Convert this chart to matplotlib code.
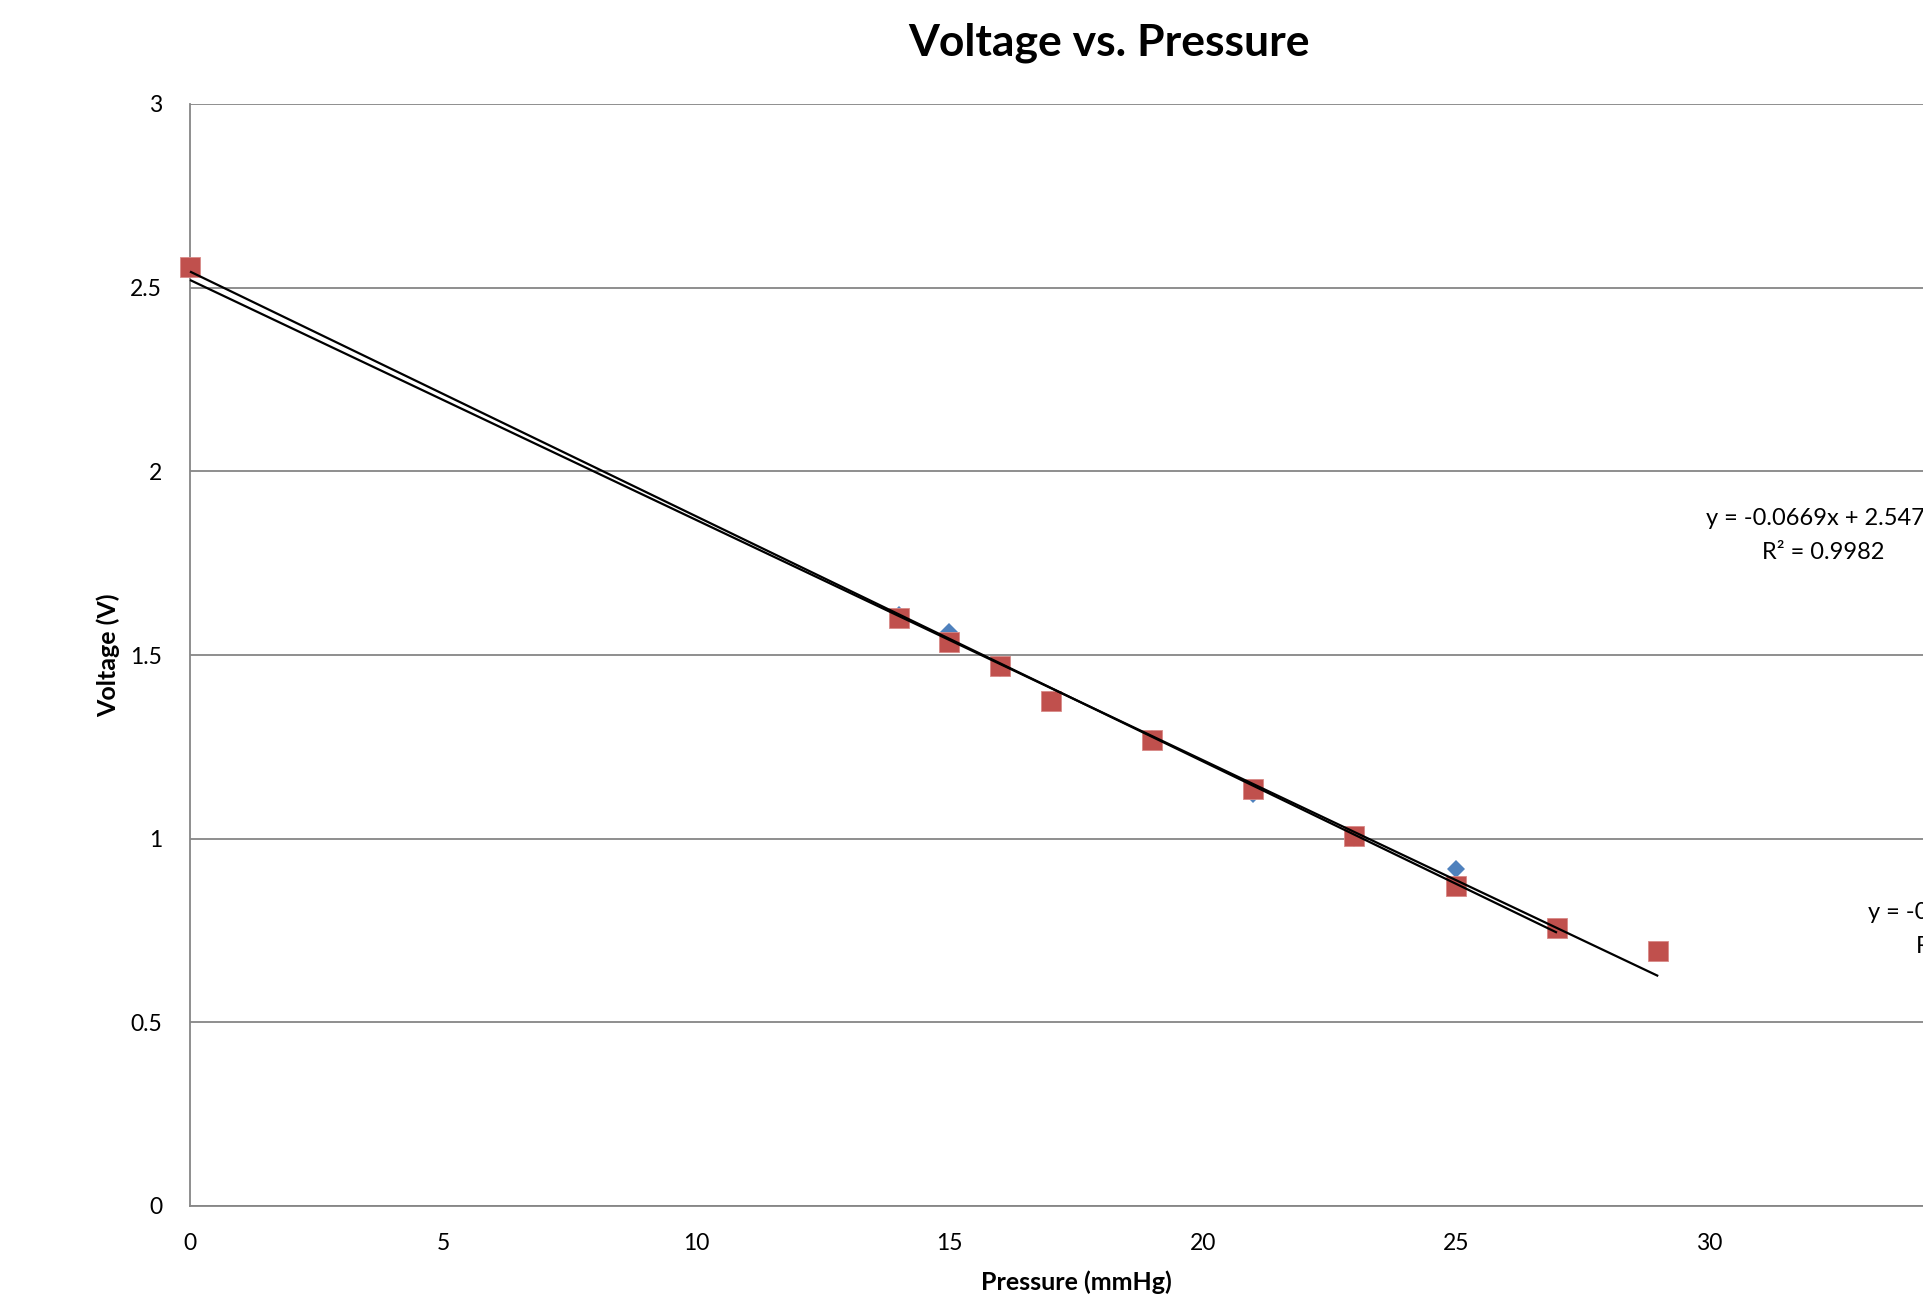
import matplotlib
matplotlib.use("Agg")
import matplotlib.pyplot as plt
import numpy as np

plt.rcParams['font.family'] = ['Lato', 'DejaVu Sans']

# pressure (mmHg) and voltage (V) for the two runs
pressure_a = [0, 14, 15, 16, 17, 19, 21, 23, 25, 27]
voltage_a = [2.56, 1.609, 1.562, 1.464, 1.378, 1.27, 1.121, 1.003, 0.917, 0.757]
pressure_b = [0, 14, 15, 16, 17, 19, 21, 23, 25, 27, 29]
voltage_b = [2.555, 1.602, 1.536, 1.469, 1.375, 1.269, 1.134, 1.007, 0.871, 0.758, 0.694]

# trendline labels as shown on the chart
label_a = "y = -0.0669x + 2.5473\nR\u00b2 = 0.9982"
label_b = "y = -0.0653x + 2.521\nR\u00b2 = 0.9972"

blue = '#4F81BD'
red = '#C0504D'
grey = '#868686'

W, H = 1924, 1294
fig = plt.figure(figsize=(W / 100, H / 100), dpi=100)
# plot area runs past the right edge of the picture, as in the original
ax = fig.add_axes([190 / W, 88 / H, 1772 / W, 1102 / H])

ax.plot(pressure_a, voltage_a, linestyle='none', marker='D', markersize=8.8,
        color=blue, markeredgewidth=0, zorder=3, clip_on=False)
ax.plot(pressure_b, voltage_b, linestyle='none', marker='s', markersize=14,
        color=red, markeredgecolor='#D88A88', markeredgewidth=0.6, zorder=4,
        clip_on=False)

# linear trendlines
for px, vy in [(pressure_a, voltage_a), (pressure_b, voltage_b)]:
    m, b = np.polyfit(px, vy, 1)
    xs = np.array([0, max(px)])
    ax.plot(xs, m * xs + b, color='black', linewidth=1.6, zorder=5,
            solid_capstyle='butt', clip_on=False)

ax.text(32.25, 1.826, label_a, ha='center', va='center', fontsize=17,
        linespacing=1.75, clip_on=False)
ax.text(35.3, 0.752, label_b, ha='center', va='center', fontsize=17,
        linespacing=1.75, clip_on=False)

ax.set_xlim(0, 35)
ax.set_ylim(0, 3)
ax.set_xticks(np.arange(0, 36, 5))
ax.set_yticks(np.arange(0, 3.01, 0.5))
ax.set_yticklabels(['0', '0.5', '1', '1.5', '2', '2.5', '3'])
ax.tick_params(length=0, labelsize=16.5)
ax.tick_params(axis='y', pad=20)
ax.tick_params(axis='x', pad=19.5)

ax.grid(axis='y', color=grey, linewidth=1.3)
ax.set_axisbelow(True)
for side in ['top', 'right']:
    ax.spines[side].set_visible(False)
for side in ['left', 'bottom']:
    ax.spines[side].set_color(grey)
    ax.spines[side].set_linewidth(1.3)

ax.set_xlabel('Pressure (mmHg)', fontsize=18, fontweight='bold', va='center')
ax.xaxis.set_label_coords(0.5, -0.069)
ax.set_ylabel('Voltage (V)', fontsize=18, fontweight='bold', va='center')
ax.yaxis.set_label_coords(-0.0463, 0.5)

fig.text(1109 / W, 1 - 43 / H, 'Voltage vs. Pressure', ha='center',
         va='center', fontsize=32, fontweight='bold')

fig.savefig('out.png', dpi=100)
